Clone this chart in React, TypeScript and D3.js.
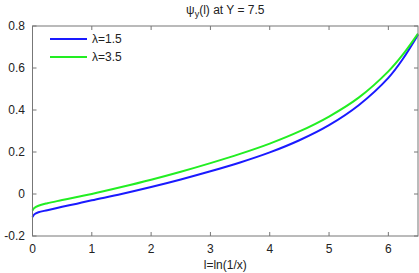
import React from "react";
import * as d3 from "d3";

const lValues = [0, 0.03, 0.1, 0.25, 0.5, 0.75, 1.0, 1.5, 2.0, 2.5, 3.0, 3.5, 4.0, 4.5, 5.0, 5.5, 6.0, 6.25, 6.5];
const blueValues = [-0.11, -0.097, -0.087, -0.077, -0.061, -0.046, -0.03, 0.0, 0.033, 0.069, 0.108, 0.15, 0.198, 0.256, 0.328, 0.423, 0.553, 0.645, 0.758];
const greenValues = [-0.079, -0.067, -0.056, -0.044, -0.029, -0.014, 0.0, 0.033, 0.068, 0.106, 0.147, 0.191, 0.24, 0.298, 0.369, 0.459, 0.584, 0.666, 0.764];
const seriesNames = ["λ=1.5", "λ=3.5"];
const seriesColors = ["#1a1aff", "#22ee22"];
const xTicks = [0, 1, 2, 3, 4, 5, 6];
const yTicks = [-0.2, 0, 0.2, 0.4, 0.6, 0.8];

const W = 419;
const H = 273;
const M = { left: 32.5, right: 418, top: 26, bottom: 236 };

export default function App() {
  const x = d3.scaleLinear().domain([0, 6.5]).range([M.left, M.right]);
  const y = d3.scaleLinear().domain([-0.2, 0.8]).range([M.bottom, M.top]);
  const line = d3
    .line<[number, number]>()
    .x((d) => x(d[0]))
    .y((d) => y(d[1]))
    .curve(d3.curveCatmullRom.alpha(0.5));
  const series = [blueValues, greenValues].map((vals) => lValues.map((l, i) => [l, vals[i]] as [number, number]));
  const font = "'Liberation Sans', Arial, sans-serif";
  const frame = "#777";
  const tl = 4;
  return (
    <svg width={W} height={H} style={{ position: "absolute", left: 0, top: 0 }} fontFamily={font}>
      <rect x={0} y={0} width={W} height={H} fill="#fff" />
      <text x={(M.left + M.right) / 2} y={14} textAnchor="middle" fontSize={12} fill="#222">
        ψ<tspan fontSize={9} dy={3}>y</tspan>
        <tspan dy={-3}>(l) at Y = 7.5</tspan>
      </text>
      {series.map((s, i) => (
        <path key={i} d={line(s) || ""} fill="none" stroke={seriesColors[i]} strokeWidth={2} />
      ))}
      <rect x={M.left} y={M.top} width={M.right - M.left} height={M.bottom - M.top} fill="none" stroke={frame} strokeWidth={1} />
      {xTicks.map((t) => (
        <g key={"x" + t}>
          <line x1={x(t)} x2={x(t)} y1={M.bottom} y2={M.bottom - tl} stroke={frame} />
          <line x1={x(t)} x2={x(t)} y1={M.top} y2={M.top + tl} stroke={frame} />
          <text x={x(t)} y={253} textAnchor="middle" fontSize={12} fill="#222">
            {t}
          </text>
        </g>
      ))}
      {yTicks.map((t) => (
        <g key={"y" + t}>
          <line x1={M.left} x2={M.left + tl} y1={y(t)} y2={y(t)} stroke={frame} />
          <line x1={M.right} x2={M.right - tl} y1={y(t)} y2={y(t)} stroke={frame} />
          <text x={25} y={y(t) + 4} textAnchor="end" fontSize={12} fill="#222">
            {t === 0 ? "0" : t.toFixed(1)}
          </text>
        </g>
      ))}
      <text x={(M.left + M.right) / 2} y={269} textAnchor="middle" fontSize={12} fill="#222">
        l=ln(1/x)
      </text>
      {seriesNames.map((n, i) => (
        <g key={n}>
          <line x1={50} x2={87} y1={39 + i * 18} y2={39 + i * 18} stroke={seriesColors[i]} strokeWidth={2} />
          <text x={92} y={43 + i * 18} fontSize={12} fill="#222">
            {n}
          </text>
        </g>
      ))}
    </svg>
  );
}
